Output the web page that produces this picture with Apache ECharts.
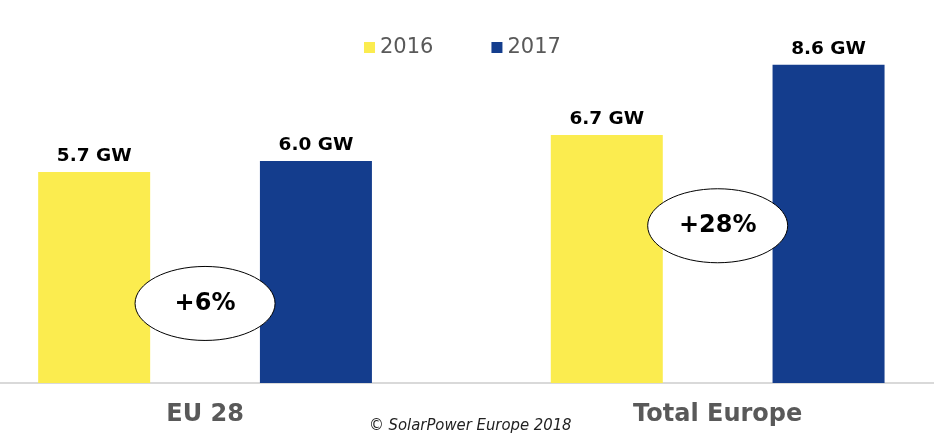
<!DOCTYPE html>
<html><head><meta charset="utf-8">
<script src="https://cdn.jsdelivr.net/npm/echarts@6/dist/echarts.min.js"></script>
<style>html,body{margin:0;padding:0;background:#fff}#c{width:934px;height:447px}</style>
</head><body><div id="c"></div>
<script>
const categories = ['EU 28', 'Total Europe'];
const seriesNames = ['2016', '2017'];
const values2016 = [5.7, 6.7];
const values2017 = [6.0, 8.6];
const growthLabels = ['+6%', '+28%'];
const growthLevels = [2.15, 4.25];

const catPos = categories.map((c, i) => i + 1);
const chart = echarts.init(document.getElementById('c'));
const labelStyle = {show: true, position: 'top', distance: 6, formatter: p => p.value[1].toFixed(1) + ' GW',
  fontFamily: 'DejaVu Sans', fontWeight: 'bold', fontSize: 18.5, color: '#000'};
const copyright = {type: 'text', left: 369, top: 417,
  style: {text: '© SolarPower Europe 2018', font: 'italic 16.5px "Liberation Sans Narrow", "DejaVu Sans Condensed", sans-serif', fill: '#222'}};
chart.setOption({
  animation: false,
  legend: {top: 32, left: 359, itemWidth: 11, itemHeight: 11, itemGap: 58, icon: 'rect',
    textStyle: {fontFamily: 'DejaVu Sans', fontSize: 21, color: '#595959'}, data: seriesNames},
  grid: {left: 0, right: 0, top: 13, bottom: 64},
  xAxis: {type: 'value', min: 0.6, max: 2.422, splitLine: {show: false},
    axisLine: {onZero: false, lineStyle: {color: '#d9d9d9', width: 2}}, axisTick: {show: false},
    axisLabel: {show: false}},
  yAxis: {type: 'value', min: 0, max: 10, show: false, splitLine: {show: false}},
  series: [
    {name: seriesNames[0], type: 'bar', data: values2016.map((v, i) => [catPos[i], v]), barWidth: 112, barGap: '98%',
     itemStyle: {color: '#FBEC4F'}, label: labelStyle},
    {name: seriesNames[1], type: 'bar', data: values2017.map((v, i) => [catPos[i], v]), barWidth: 112,
     itemStyle: {color: '#143D8D'}, label: labelStyle}
  ],
  graphic: [copyright]
});
const g = [copyright];
categories.forEach((c, i) => {
  const p = chart.convertToPixel({gridIndex: 0}, [catPos[i], growthLevels[i]]);
  const base = chart.convertToPixel({gridIndex: 0}, [catPos[i], 0]);
  g.push({type: 'text', x: base[0], y: base[1] + 32, style: {text: c, align: 'center', verticalAlign: 'middle',
    font: 'bold 24px "DejaVu Sans"', fill: '#595959'}});
  g.push({type: 'ellipse', shape: {cx: p[0], cy: p[1], rx: 70, ry: 37}, style: {fill: '#fff', stroke: '#000', lineWidth: 1}, z: 100});
  g.push({type: 'text', x: p[0], y: p[1], z: 101, style: {text: growthLabels[i], align: 'center', verticalAlign: 'middle',
    font: 'bold 24px "DejaVu Sans"', fill: '#000'}});
});
chart.setOption({graphic: g});
</script></body></html>
